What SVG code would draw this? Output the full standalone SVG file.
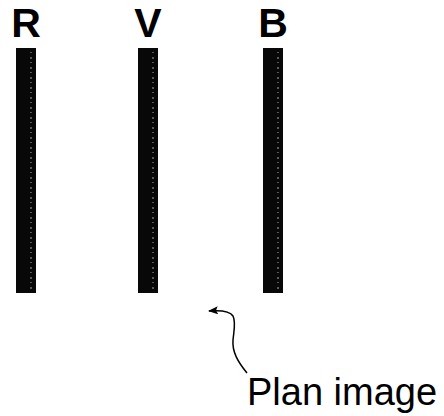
<svg xmlns="http://www.w3.org/2000/svg" width="444" height="416" viewBox="0 0 444 416">
<style>
.lbl{font-family:"Liberation Sans",Arial,sans-serif;font-weight:bold;font-size:41px;fill:#000;text-anchor:middle}
.bar{fill:#080808}
.tex{fill:none;stroke:#aaa;stroke-width:1;stroke-dasharray:1 4 2 3}
.cap{font-family:"Liberation Sans",Arial,sans-serif;font-size:38px;fill:#000}
</style>
<defs>
<marker id="ah" markerWidth="10" markerHeight="8" refX="9" refY="4" orient="auto" markerUnits="userSpaceOnUse">
<path d="M0,0 L10,4 L0,8 L2,4 Z" fill="#000"/>
</marker>
</defs>
<g id="R">
<text class="lbl" x="26" y="37">R</text>
<rect class="bar" x="16" y="48" width="20" height="245"/>
<line class="tex" x1="31" y1="52" x2="31" y2="290"/>
</g>
<g id="V">
<text class="lbl" x="148" y="37">V</text>
<rect class="bar" x="138" y="48" width="20" height="245"/>
<line class="tex" x1="153" y1="52" x2="153" y2="290"/>
</g>
<g id="B">
<text class="lbl" x="273" y="37">B</text>
<rect class="bar" x="263" y="48" width="20" height="245"/>
<line class="tex" x1="278" y1="52" x2="278" y2="290"/>
</g>
<g id="connectors">
<path d="M247,373 C238,362 232,352 233,340 C234,330 236,322 233,316 C230,311 222,310 209,311" fill="none" stroke="#000" stroke-width="1.5" marker-end="url(#ah)"/>
</g>
<g id="caption">
<text class="cap" x="247" y="405">Plan image</text>
</g>
</svg>
